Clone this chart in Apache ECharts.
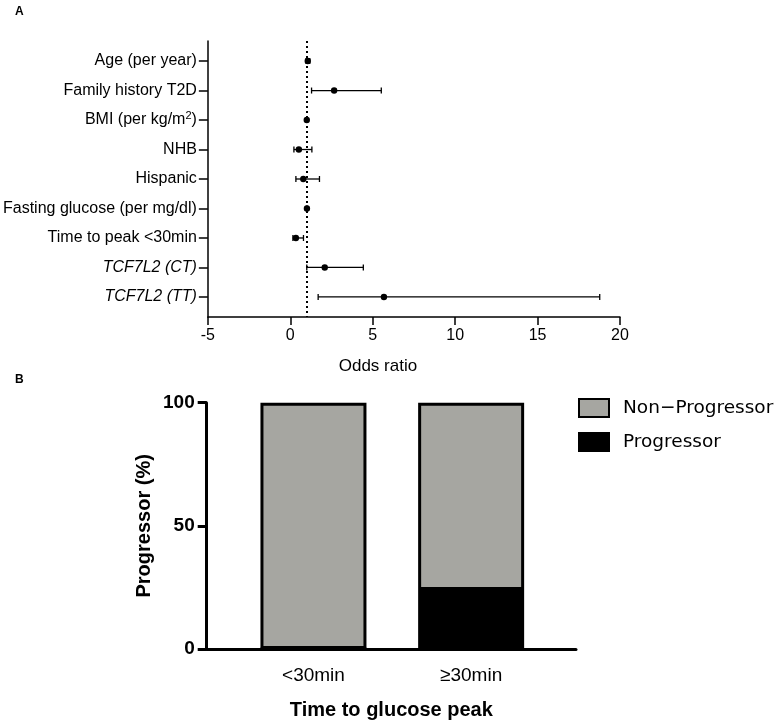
<!DOCTYPE html>
<html>
<head>
<meta charset="utf-8">
<script src="https://cdn.jsdelivr.net/npm/echarts@6/dist/echarts.min.js"></script>
<style>html,body{margin:0;padding:0;background:#fff}#c{width:780px;height:727px}</style>
</head>
<body>
<div id="c"></div>
<script>
// Panel A: odds ratios
const factors = ['Age (per year)', 'Family history T2D', 'BMI (per kg/m²)', 'NHB', 'Hispanic',
  'Fasting glucose (per mg/dl)', 'Time to peak <30min', 'TCF7L2 (CT)', 'TCF7L2 (TT)'];
const orValues = [1.06, 2.66, 1.00, 0.52, 0.79, 1.01, 0.34, 2.09, 5.68];
const ciLow    = [0.96, 1.29, 0.97, 0.22, 0.34, 0.98, 0.16, 1.00, 1.69];
const ciHigh   = [1.18, 5.52, 1.04, 1.31, 1.77, 1.04, 0.80, 4.43, 18.77];
const orTicks = [-5, 0, 5, 10, 15, 20];
const refLine = 1;

// Panel B: progressor percentages
const peakGroups = ['<30min', '≥30min'];
const nonProgressor = [100, 76];
const progressor = [0, 24];

const FONT = '"Liberation Sans", Arial, Helvetica, sans-serif';
const chart = echarts.init(document.getElementById('c'));

const rowIdx = factors.map((_, i) => i);
const forestData = factors.map((f, i) => [orValues[i], ciLow[i], ciHigh[i], i]);

function fmtFactor(v) {
  const i = Math.round(v);
  const name = factors[i];
  if (name === undefined) return '';
  if (name.indexOf('TCF7L2') === 0) return '{it|' + name + '}';
  if (name.indexOf('BMI') === 0) return '{n|BMI (per kg/m}{sup|2}{n|)}';
  return name;
}

const option = {
  backgroundColor: '#ffffff',
  animation: false,
  textStyle: { fontFamily: FONT, color: '#000' },
  graphic: [
    { type: 'text', left: 15, top: 6, style: { text: 'A', font: 'bold 12px ' + FONT, fill: '#000' } },
    { type: 'text', left: 15, top: 374, style: { text: 'B', font: 'bold 12px ' + FONT, fill: '#000' } }
  ],
  legend: {
    orient: 'vertical', left: 578, top: 398, padding: 0,
    itemWidth: 30, itemHeight: 18, itemGap: 14, icon: 'rect',
    data: ['Non−Progressor', 'Progressor'],
    textStyle: { fontFamily: '"DejaVu Sans", sans-serif', fontSize: 18.5, color: '#000', padding: [0, 0, 0, 9] }
  },
  grid: [
    { left: 206.7, right: 160, top: 41, bottom: 410 },
    { left: 206.7, right: 204, top: 402.7, bottom: 78 }
  ],
  xAxis: [
    {
      gridIndex: 0, type: 'value', min: -5, max: 20, interval: 5,
      name: 'Odds ratio', nameLocation: 'middle', nameGap: 41,
      nameTextStyle: { fontFamily: FONT, fontSize: 17, color: '#000', padding: [0, 72, 0, 0] },
      axisLine: { show: true, onZero: false, lineStyle: { color: '#000', width: 1.5 } },
      axisTick: { show: true, length: 8, lineStyle: { color: '#000', width: 1.5 } },
      axisLabel: { fontFamily: FONT, fontSize: 16, color: '#000', margin: 11,
        customValues: orTicks },
      splitLine: { show: false }
    },
    {
      gridIndex: 1, type: 'value', min: 0.323, max: 2.665,
      name: 'Time to glucose peak', nameLocation: 'middle', nameGap: 51,
      nameTextStyle: { fontFamily: FONT, fontSize: 20, fontWeight: 'bold', color: '#000' },
      axisLine: { show: true, onZero: false, lineStyle: { color: '#000', width: 3 } },
      axisTick: { show: false },
      axisLabel: { fontFamily: FONT, fontSize: 19, color: '#000', margin: 17,
        customValues: peakGroups.map((_, i) => i + 1),
        formatter: v => peakGroups[Math.round(v) - 1] || '' },
      splitLine: { show: false }
    }
  ],
  yAxis: [
    {
      gridIndex: 0, type: 'value', min: -0.68, max: 8.68, inverse: true,
      axisLine: { show: true, onZero: false, lineStyle: { color: '#000', width: 1.5 } },
      axisTick: { show: true, length: 9, customValues: rowIdx, lineStyle: { color: '#000', width: 1.5 } },
      axisLabel: {
        fontFamily: FONT, fontSize: 16, color: '#000', margin: 11,
        customValues: rowIdx, formatter: fmtFactor,
        rich: {
          it: { fontFamily: FONT, fontSize: 16, fontStyle: 'italic', color: '#000' },
          n: { fontFamily: FONT, fontSize: 16, color: '#000' },
          sup: { fontFamily: FONT, fontSize: 11, color: '#000', padding: [0, 0, 9, 0] }
        }
      },
      splitLine: { show: false }
    },
    {
      gridIndex: 1, type: 'value', min: 0, max: 100, interval: 50,
      name: 'Progressor (%)', nameLocation: 'middle', nameGap: 52,
      nameTextStyle: { fontFamily: FONT, fontSize: 20, fontWeight: 'bold', color: '#000' },
      axisLine: { show: true, onZero: false, lineStyle: { color: '#000', width: 3 } },
      axisTick: { show: true, length: 9, lineStyle: { color: '#000', width: 3 } },
      axisLabel: { fontFamily: FONT, fontSize: 19, fontWeight: 'bold', color: '#000', margin: 12 },
      splitLine: { show: false }
    }
  ],
  series: [
    {
      type: 'custom', name: 'OR', xAxisIndex: 0, yAxisIndex: 0,
      data: forestData,
      encode: { x: [0, 1, 2], y: 3 },
      renderItem: function (params, api) {
        const y = api.value(3);
        const pm = api.coord([api.value(0), y]);
        const pl = api.coord([api.value(1), y]);
        const ph = api.coord([api.value(2), y]);
        const cap = 3;
        const st = { stroke: '#000', lineWidth: 1.3 };
        return {
          type: 'group',
          children: [
            { type: 'line', shape: { x1: pl[0], y1: pl[1], x2: ph[0], y2: ph[1] }, style: st },
            { type: 'line', shape: { x1: pl[0], y1: pl[1] - cap, x2: pl[0], y2: pl[1] + cap }, style: st },
            { type: 'line', shape: { x1: ph[0], y1: ph[1] - cap, x2: ph[0], y2: ph[1] + cap }, style: st },
            { type: 'circle', shape: { cx: pm[0], cy: pm[1], r: 3.2 }, style: { fill: '#000' } }
          ]
        };
      },
      markLine: {
        silent: true, symbol: ['none', 'none'], label: { show: false },
        lineStyle: { color: '#000', type: [2, 3], width: 2 },
        data: [{ xAxis: refLine }]
      },
      z: 5
    },
    {
      type: 'bar', name: 'Progressor', xAxisIndex: 1, yAxisIndex: 1, stack: 'p',
      barWidth: 106,
      data: progressor.map((v, i) => [v, i + 1]),
      encode: { x: 1, y: 0 },
      itemStyle: { color: '#000', borderColor: '#000', borderWidth: 3 }
    },
    {
      type: 'bar', name: 'Non−Progressor', xAxisIndex: 1, yAxisIndex: 1, stack: 'p',
      barWidth: 106,
      data: nonProgressor.map((v, i) => [v, i + 1]),
      encode: { x: 1, y: 0 },
      itemStyle: { color: '#a6a6a1', borderColor: '#000', borderWidth: 3 }
    }
  ]
};
chart.setOption(option);
</script>
</body>
</html>
